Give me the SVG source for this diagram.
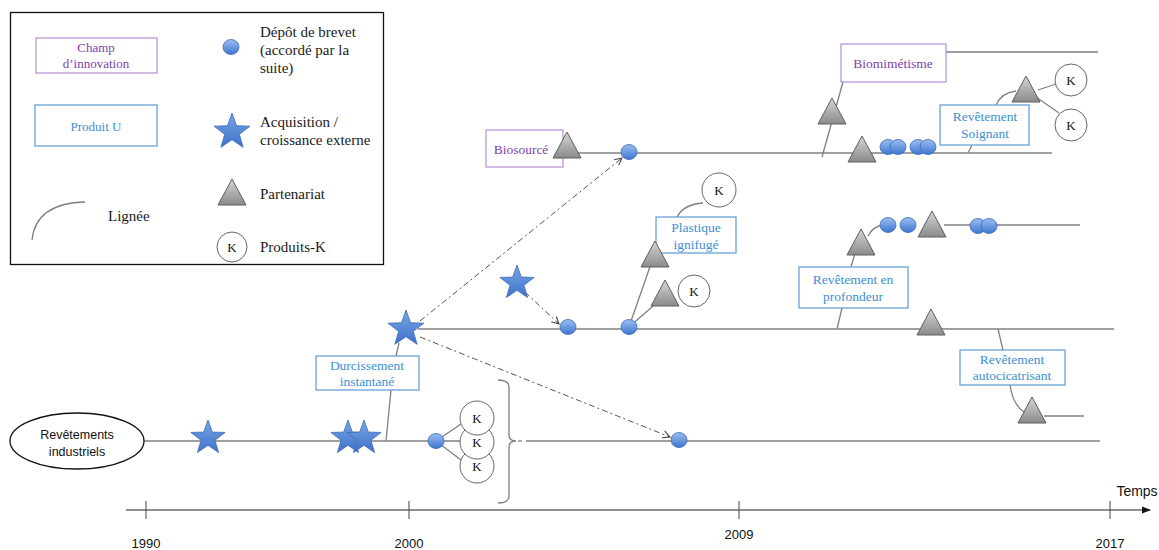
<svg xmlns="http://www.w3.org/2000/svg" width="1159" height="550" viewBox="0 0 1159 550">
<style>
.ln{fill:none;stroke:#808080;stroke-width:1.3}
.dash{fill:none;stroke:#555;stroke-width:1;stroke-dasharray:6,3,2,3}
.ub{fill:#fff;stroke:#5b9bd5;stroke-width:1.2}
.cb{fill:#fff;stroke:#b48ed2;stroke-width:1.2}
.ut{font-family:"Liberation Serif",serif;font-size:13.5px;fill:#3b8fd3;text-anchor:middle}
.ct{font-family:"Liberation Serif",serif;font-size:13.5px;fill:#7d3faa;text-anchor:middle}
.lg{font-family:"Liberation Serif",serif;font-size:15px;fill:#1a1a1a}
.kc{fill:#fff;stroke:#666;stroke-width:1}
.kt{font-family:"Liberation Serif",serif;font-size:13px;fill:#111;text-anchor:middle}
.ax{font-family:"Liberation Sans",Arial,sans-serif;font-size:13px;fill:#111;text-anchor:middle}
</style>
<defs>
<linearGradient id="gDot" x1="0" y1="0" x2="0" y2="1"><stop offset="0" stop-color="#9bbef0"/><stop offset="1" stop-color="#3f76cf"/></linearGradient>
<linearGradient id="gTri" x1="0" y1="0" x2="0" y2="1"><stop offset="0" stop-color="#d6d6d6"/><stop offset="1" stop-color="#8a8a8a"/></linearGradient>
<linearGradient id="gStar" x1="0" y1="0" x2="0" y2="1"><stop offset="0" stop-color="#7aa6e6"/><stop offset="1" stop-color="#3e72c9"/></linearGradient>
<ellipse id="dot" cx="0" cy="0" rx="8" ry="7.5" fill="url(#gDot)" stroke="#3a6bbd" stroke-width="0.8"/>
<path id="tri" d="M0,-13 L14,13 L-14,13 Z" fill="url(#gTri)" stroke="#5e5e5e" stroke-width="1"/>
<path id="star" d="M0,-18 L4.29,-5.91 L17.12,-5.56 L6.94,2.26 L10.58,14.56 L0,7.3 L-10.58,14.56 L-6.94,2.26 L-17.12,-5.56 L-4.29,-5.91 Z" fill="url(#gStar)" stroke="#3b6bb8" stroke-width="0.8"/>
<marker id="arr" viewBox="0 0 10 10" refX="9" refY="5" markerWidth="9" markerHeight="9" markerUnits="userSpaceOnUse" orient="auto"><path d="M1,1 L9,5 L1,9" fill="none" stroke="#444" stroke-width="1.2"/></marker>
<marker id="axarr" viewBox="0 0 10 10" refX="9" refY="5" markerWidth="9" markerHeight="9" markerUnits="userSpaceOnUse" orient="auto"><path d="M0,1 L10,5 L0,9 Z" fill="#111"/></marker>
</defs>

<!-- Legend -->
<g id="legend">
<rect x="10.5" y="12.5" width="373" height="252" fill="#fff" stroke="#111" stroke-width="1.3"/>
<rect class="cb" x="36" y="38" width="121" height="35"/>
<text class="ct" font-size="13px" x="96" y="52" style="font-size:13px">Champ</text>
<text class="ct" x="96" y="68" style="font-size:13px">d’innovation</text>
<rect class="ub" x="35" y="105" width="122" height="41"/>
<text class="ut" x="96" y="131" style="font-size:13px">Produit U</text>
<path class="ln" d="M32,240 Q36,203 85,202"/>
<text class="lg" x="108" y="221">Lignée</text>
<use href="#dot" x="231" y="47"/>
<text class="lg" x="260" y="37">Dépôt de brevet</text>
<text class="lg" x="260" y="55">(accordé par la</text>
<text class="lg" x="260" y="73">suite)</text>
<use href="#star" transform="translate(232,132) scale(1.05)"/>
<text class="lg" x="260" y="127">Acquisition /</text>
<text class="lg" x="260" y="145">croissance externe</text>
<use href="#tri" x="232" y="192"/>
<text class="lg" x="260" y="199">Partenariat</text>
<circle class="kc" cx="232" cy="247" r="15"/>
<text class="kt" x="232" y="252">K</text>
<text class="lg" x="260" y="252">Produits-K</text>
</g>

<!-- Connectors -->
<g id="connectors">
<!-- main line -->
<line class="ln" x1="144" y1="441" x2="460" y2="441"/>
<line class="ln" x1="436" y1="441" x2="461" y2="424"/>
<line class="ln" x1="436" y1="441" x2="461" y2="460"/>
<path class="ln" d="M498,380 Q509,380 509,387 L509,435 Q509,441 516,441 Q509,441 509,447 L509,496 Q509,503 498,503"/>
<line class="ln" x1="518" y1="441" x2="522" y2="441"/>
<line class="ln" x1="526" y1="441" x2="1100" y2="441"/>
<!-- durcissement link -->
<line class="ln" x1="386" y1="441" x2="391" y2="390"/>
<line class="ln" x1="396" y1="356" x2="399" y2="343"/>
<!-- middle line -->
<line class="ln" x1="418" y1="329" x2="1114" y2="329"/>
<!-- upper line -->
<line class="ln" x1="575" y1="153" x2="1052" y2="153"/>
<!-- dashed arrows -->
<line class="dash" x1="420" y1="321" x2="622" y2="158" marker-end="url(#arr)"/>
<line class="dash" x1="420" y1="337" x2="670" y2="437" marker-end="url(#arr)"/>
<line class="dash" x1="525" y1="292" x2="559" y2="324" marker-end="url(#arr)"/>
<!-- plastique branch -->
<line class="ln" x1="629" y1="327" x2="653" y2="258"/>
<line class="ln" x1="629" y1="327" x2="660" y2="300"/>
<path class="ln" d="M677,217 Q684,204 703,203"/>
<line class="ln" x1="677" y1="292" x2="677" y2="292"/>
<!-- biomimetisme -->
<line class="ln" x1="822" y1="157" x2="843" y2="82"/>
<line class="ln" x1="946" y1="52" x2="1098" y2="52"/>
<!-- soignant -->
<line class="ln" x1="968" y1="153" x2="972" y2="145"/>
<path class="ln" d="M996,105 Q1001,93 1016,91"/>
<line class="ln" x1="1038" y1="90" x2="1056" y2="84"/>
<line class="ln" x1="1036" y1="97" x2="1059" y2="113"/>
<!-- profondeur -->
<line class="ln" x1="837" y1="329" x2="842" y2="308"/>
<line class="ln" x1="851" y1="267" x2="856" y2="250"/>
<path class="ln" d="M868,236 Q873,226 884,225"/>
<line class="ln" x1="944" y1="225" x2="1080" y2="225"/>
<!-- autocicatrisant -->
<line class="ln" x1="998" y1="329" x2="1003" y2="350"/>
<path class="ln" d="M1010,385 Q1013,405 1024,412"/>
<line class="ln" x1="1044" y1="416" x2="1084" y2="416"/>
</g>

<!-- Timeline -->
<g id="timeline">
<line x1="126" y1="510" x2="1150" y2="510" stroke="#222" stroke-width="1" marker-end="url(#axarr)"/>
<line x1="146" y1="501" x2="146" y2="519" stroke="#444" stroke-width="1"/>
<line x1="409" y1="501" x2="409" y2="519" stroke="#444" stroke-width="1"/>
<line x1="739" y1="501" x2="739" y2="519" stroke="#444" stroke-width="1"/>
<line x1="1110" y1="501" x2="1110" y2="519" stroke="#444" stroke-width="1"/>
<text class="ax" x="146" y="548">1990</text>
<text class="ax" x="409" y="548">2000</text>
<text class="ax" x="739" y="539">2009</text>
<text class="ax" x="1110" y="548">2017</text>
<text class="ax" x="1137" y="496" style="font-size:14px">Temps</text>
</g>

<!-- Nodes -->
<g id="n-revetements-industriels">
<ellipse cx="77" cy="441" rx="67" ry="28" fill="#fff" stroke="#111" stroke-width="1.3"/>
<text x="77" y="439" text-anchor="middle" font-family="Liberation Sans, Arial, sans-serif" font-size="12.5" fill="#111">Revêtements</text>
<text x="77" y="456" text-anchor="middle" font-family="Liberation Sans, Arial, sans-serif" font-size="12.5" fill="#111">industriels</text>
</g>
<g id="n-star-1992"><use href="#star" x="208" y="438"/></g>
<g id="n-star-1997a"><use href="#star" x="348" y="438"/></g>
<g id="n-star-1997b"><use href="#star" x="364" y="438"/></g>
<g id="n-durcissement">
<rect class="ub" x="316" y="356" width="103" height="34"/>
<text class="ut" x="367" y="370">Durcissement</text>
<text class="ut" x="367" y="386">instantané</text>
</g>
<g id="n-star-2000"><use href="#star" transform="translate(406,329) scale(1.05)"/></g>
<g id="n-dot-2001"><use href="#dot" x="436" y="441"/></g>
<g id="n-k-2001">
<circle class="kc" cx="477" cy="466" r="17"/><text class="kt" x="477" y="471">K</text>
<circle class="kc" cx="477" cy="442" r="17"/><text class="kt" x="477" y="447">K</text>
<circle class="kc" cx="477" cy="418" r="17"/><text class="kt" x="477" y="423">K</text>
</g>
<g id="n-dot-2008"><use href="#dot" x="679" y="440"/></g>
<g id="n-biosource">
<rect class="cb" x="486" y="130" width="77" height="37"/>
<text class="ct" x="521" y="154">Biosourcé</text>
</g>
<g id="n-tri-biosource"><use href="#tri" x="567" y="145"/></g>
<g id="n-dot-biosource"><use href="#dot" x="629" y="152"/></g>
<g id="n-star-2004"><use href="#star" x="517" y="283"/></g>
<g id="n-dot-2005"><use href="#dot" x="568" y="327"/></g>
<g id="n-dot-2007"><use href="#dot" x="629" y="327"/></g>
<g id="n-plastique">
<rect class="ub" x="656" y="217" width="80" height="36"/>
<text class="ut" x="696" y="232">Plastique</text>
<text class="ut" x="696" y="249">ignifugé</text>
</g>
<g id="n-tri-plastique"><use href="#tri" x="655" y="254"/></g>
<g id="n-k-plastique"><circle class="kc" cx="719" cy="190" r="17"/><text class="kt" x="719" y="195">K</text></g>
<g id="n-tri-plastique2"><use href="#tri" x="665" y="293"/></g>
<g id="n-k-plastique2"><circle class="kc" cx="694" cy="291" r="16"/><text class="kt" x="694" y="296">K</text></g>
<g id="n-biomimetisme">
<rect class="cb" x="841" y="44" width="105" height="38"/>
<text class="ct" x="893" y="68">Biomimétisme</text>
</g>
<g id="n-tri-biomimetisme"><use href="#tri" x="832" y="111"/></g>
<g id="n-tri-2011"><use href="#tri" x="862" y="149"/></g>
<g id="n-dots-2012">
<use href="#dot" x="888" y="147"/><use href="#dot" x="898" y="147"/>
<use href="#dot" x="918" y="147"/><use href="#dot" x="928" y="147"/>
</g>
<g id="n-soignant">
<rect class="ub" x="940" y="105" width="89" height="40"/>
<text class="ut" x="985" y="121">Revêtement</text>
<text class="ut" x="985" y="138">Soignant</text>
</g>
<g id="n-tri-soignant"><use href="#tri" x="1026" y="89"/></g>
<g id="n-k-soignant">
<circle class="kc" cx="1071" cy="80" r="16"/><text class="kt" x="1071" y="85">K</text>
<circle class="kc" cx="1071" cy="125" r="16"/><text class="kt" x="1071" y="130">K</text>
</g>
<g id="n-profondeur">
<rect class="ub" x="799" y="267" width="109" height="41"/>
<text class="ut" x="853" y="284">Revêtement en</text>
<text class="ut" x="853" y="301">profondeur</text>
</g>
<g id="n-tri-profondeur"><use href="#tri" x="861" y="242"/></g>
<g id="n-dots-profondeur"><use href="#dot" x="888" y="225"/><use href="#dot" x="908" y="225"/></g>
<g id="n-tri-profondeur2"><use href="#tri" x="932" y="224"/></g>
<g id="n-dots-profondeur2"><use href="#dot" x="978" y="226"/><use href="#dot" x="989" y="226"/></g>
<g id="n-tri-2014"><use href="#tri" x="931" y="322"/></g>
<g id="n-autocicatrisant">
<rect class="ub" x="960" y="350" width="105" height="35"/>
<text class="ut" x="1012" y="364">Revêtement</text>
<text class="ut" x="1012" y="380">autocicatrisant</text>
</g>
<g id="n-tri-autocicatrisant"><use href="#tri" x="1032" y="410"/></g>
</svg>
